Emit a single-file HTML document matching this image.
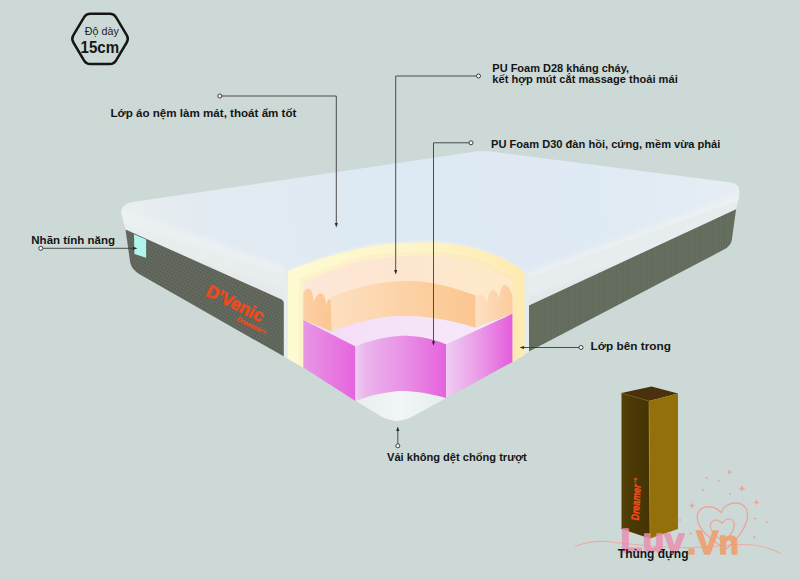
<!DOCTYPE html>
<html lang="vi">
<head>
<meta charset="utf-8">
<title>Cấu tạo nệm D'Venic</title>
<style>
html,body{margin:0;padding:0;background:#ccd9d7;}
body{width:800px;height:579px;overflow:hidden;position:relative;font-family:"Liberation Sans",sans-serif;}
svg{position:absolute;left:0;top:0;display:block;}
text{font-family:"Liberation Sans",sans-serif;}
.lb{font-weight:bold;fill:#151515;}
.ln{fill:none;stroke:#3c3c3c;stroke-width:0.9;}
.dot{fill:#fafbfb;stroke:#2b2b2b;stroke-width:0.9;}
.ah{fill:#2b2b2b;}
</style>
</head>
<body>
<svg width="800" height="579" viewBox="0 0 800 579">
<defs>
  <linearGradient id="gTop" x1="121" y1="215" x2="740" y2="190" gradientUnits="userSpaceOnUse">
    <stop offset="0" stop-color="#e9eef0"/>
    <stop offset="0.12" stop-color="#e3ebf1"/>
    <stop offset="0.4" stop-color="#dde9f3"/>
    <stop offset="0.8" stop-color="#dfeaf3"/>
    <stop offset="1" stop-color="#e6eef3"/>
  </linearGradient>
  <linearGradient id="gWL" x1="200" y1="232.5" x2="190.2" y2="260.8" gradientUnits="userSpaceOnUse">
    <stop offset="0" stop-color="#edf1f2" stop-opacity="0"/>
    <stop offset="0.25" stop-color="#edf1f2" stop-opacity="0.8"/>
    <stop offset="0.8" stop-color="#eaeeef" stop-opacity="0.95"/>
    <stop offset="1" stop-color="#e5e9eb" stop-opacity="1"/>
  </linearGradient>
  <linearGradient id="gWR" x1="640" y1="226" x2="650.5" y2="254" gradientUnits="userSpaceOnUse">
    <stop offset="0" stop-color="#edf1f2" stop-opacity="0"/>
    <stop offset="0.25" stop-color="#edf1f2" stop-opacity="0.8"/>
    <stop offset="0.8" stop-color="#e9eef0" stop-opacity="0.95"/>
    <stop offset="1" stop-color="#e3e9eb" stop-opacity="1"/>
  </linearGradient>
  <pattern id="pGrey" width="3" height="3" patternUnits="userSpaceOnUse" patternTransform="rotate(28)">
    <rect width="3" height="3" fill="#61665c"/>
    <rect width="1.5" height="1.5" fill="#6c7166"/>
    <rect x="1.5" y="1.5" width="1.5" height="1.5" fill="#575c53"/>
  </pattern>
  <pattern id="pGreyR" width="2.4" height="6" patternUnits="userSpaceOnUse" patternTransform="skewY(-25)">
    <rect width="2.4" height="6" fill="#60695a"/>
    <rect width="1.2" height="6" fill="#687161"/>
  </pattern>
  <linearGradient id="gBoxL" x1="621.5" y1="0" x2="650" y2="0" gradientUnits="userSpaceOnUse">
    <stop offset="0" stop-color="#564208"/>
    <stop offset="0.35" stop-color="#4b3906"/>
    <stop offset="1" stop-color="#453403"/>
  </linearGradient>
  <linearGradient id="gYel" x1="288" y1="0" x2="525" y2="0" gradientUnits="userSpaceOnUse">
    <stop offset="0" stop-color="#fefad2"/>
    <stop offset="0.5" stop-color="#fdf5c8"/>
    <stop offset="1" stop-color="#fdebb0"/>
  </linearGradient>
  <linearGradient id="gYel2" x1="288" y1="0" x2="525" y2="0" gradientUnits="userSpaceOnUse">
    <stop offset="0" stop-color="#fdf4ca"/>
    <stop offset="0.5" stop-color="#fdefc8"/>
    <stop offset="1" stop-color="#fde8b2"/>
  </linearGradient>
  <linearGradient id="gPeachTop" x1="0" y1="0" x2="1" y2="0">
    <stop offset="0" stop-color="#fde8d8"/>
    <stop offset="0.5" stop-color="#fde6d0"/>
    <stop offset="1" stop-color="#fdeac8"/>
  </linearGradient>
  <linearGradient id="gPeachWall" x1="0" y1="0" x2="1" y2="0">
    <stop offset="0" stop-color="#fddfc0"/>
    <stop offset="0.6" stop-color="#fcd0a2"/>
    <stop offset="1" stop-color="#fbc690"/>
  </linearGradient>
  <linearGradient id="gPeachL" x1="0" y1="0" x2="1" y2="0">
    <stop offset="0" stop-color="#fbcfa4"/>
    <stop offset="1" stop-color="#fbc692"/>
  </linearGradient>
  <linearGradient id="gPeachR" x1="0" y1="0" x2="1" y2="0">
    <stop offset="0" stop-color="#fde0c4"/>
    <stop offset="1" stop-color="#fccb9c"/>
  </linearGradient>
  <linearGradient id="gPinkTop" x1="0" y1="0" x2="1" y2="0">
    <stop offset="0" stop-color="#f3dcf6"/>
    <stop offset="1" stop-color="#f8eafb"/>
  </linearGradient>
  <linearGradient id="gPinkL" x1="0" y1="0" x2="1" y2="0">
    <stop offset="0" stop-color="#e896e5"/>
    <stop offset="1" stop-color="#e664de"/>
  </linearGradient>
  <linearGradient id="gPinkF" x1="0" y1="0" x2="1" y2="0">
    <stop offset="0" stop-color="#efcef1"/>
    <stop offset="0.12" stop-color="#ebb4ec"/>
    <stop offset="0.55" stop-color="#e98fe6"/>
    <stop offset="1" stop-color="#e562dd"/>
  </linearGradient>
  <linearGradient id="gPinkR" x1="0" y1="0" x2="1" y2="0">
    <stop offset="0" stop-color="#efcdf2"/>
    <stop offset="0.5" stop-color="#ea9be8"/>
    <stop offset="1" stop-color="#e55cdc"/>
  </linearGradient>
  <linearGradient id="gBase" x1="0" y1="0" x2="1" y2="0">
    <stop offset="0" stop-color="#e9eeee"/>
    <stop offset="0.5" stop-color="#f1f5f5"/>
    <stop offset="1" stop-color="#e6ecec"/>
  </linearGradient>
</defs>

<rect width="800" height="579" fill="#ccd9d7"/>

<!-- ===== mattress ===== -->
<!-- top surface -->
<path d="M121.5,214 Q120.8,204.6 131,202.3 L471,152.3 Q480,150.4 489,151.2 L731,182.6 Q739.8,184 739.6,192 L739,200 L525,279 L285,275 L124,224 Z" fill="url(#gTop)"/>
<!-- white cover: front-left face -->
<path d="M121.2,212 Q121.3,207.5 125,204.5 L285,261.5 L285,301 L147,240 L125.5,230 Z" fill="url(#gWL)"/>
<!-- white cover: front-right face -->
<path d="M739.7,184.5 L738,201 L736.1,209.4 L529,305.5 L525,305 L525,265.5 Z" fill="url(#gWR)"/>
<!-- grey left face -->
<path d="M125.5,229.5 L281,299.2 Q284,300.6 284,304 L284,356.6 L140,274.5 Q131.6,269.8 130.2,262.5 Z" fill="url(#pGrey)"/>
<!-- grey right face -->
<path d="M529,305.5 L736.1,209.2 L731.9,239.5 Q731,246 724,249.6 L529,351.6 Z" fill="url(#pGreyR)"/>
<!-- teal label -->
<path d="M134,234.2 L146.1,239.4 L146.1,257.7 L134.4,254 Z" fill="#b0f4ee"/>

<!-- cutaway: thin white edge + yellow shell -->
<path d="M283.8,269.5 L284.0,269.3 C289.5,267.4 306.0,261.3 316.8,257.8 C327.6,254.3 338.5,251.1 348.8,248.6 C359.1,246.1 367.1,244.2 378.8,242.8 C390.5,241.4 408.0,240.6 418.8,240.3 C429.6,240.0 433.8,239.6 443.8,240.8 C453.8,242.1 468.3,244.8 478.8,247.8 C489.3,250.8 498.5,254.8 506.8,259.1 C515.1,263.3 525.1,271.1 528.8,273.5 L529,352 L512,362 L512,300 L303,300 L303,367.6 L283.8,356.6 Z" fill="#e7ecee"/>
<path d="M288.0,271.0 C293.0,269.2 307.7,263.4 318.0,260.0 C328.3,256.6 339.7,253.2 350.0,250.8 C360.3,248.2 368.3,246.4 380.0,245.0 C391.7,243.6 409.2,242.8 420.0,242.5 C430.8,242.2 435.0,241.8 445.0,243.0 C455.0,244.2 469.5,247.0 480.0,250.0 C490.5,253.0 500.6,257.5 508.0,261.2 C515.4,265.0 521.8,270.7 524.6,272.6 L524.6,355.2 L512.4,362 L512.4,290 L303.4,290 L303.4,367.6 L288,358.8 Z" fill="url(#gYel)"/>
<path d="M299.0,278.6 C307.5,275.4 336.5,263.5 350.0,259.3 C363.5,255.1 368.3,254.7 380.0,253.3 C391.7,251.9 409.2,251.3 420.0,251.0 C430.8,250.7 435.0,250.3 445.0,251.6 C455.0,252.9 468.1,254.4 480.0,258.8 C491.9,263.2 510.4,275.1 516.5,278.3 L516.5,359.7 L512.4,362 L512.4,290 L303.4,290 L303.4,367.6 L299,365.1 Z" fill="url(#gYel2)"/>
<path d="M299.0,278.6 C307.5,275.4 336.5,263.5 350.0,259.3 C363.5,255.1 368.3,254.7 380.0,253.3 C391.7,251.9 409.2,251.3 420.0,251.0 C430.8,250.7 435.0,250.3 445.0,251.6 C455.0,252.9 468.1,254.4 480.0,258.8 C491.9,263.2 510.4,275.1 516.5,278.3" fill="none" stroke="#fefbe0" stroke-width="0.7" opacity="0.55"/>
<!-- light peach top (inside yellow arc) -->
<path d="M303.4,281.4 C311.2,278.5 337.2,267.7 350.0,263.9 C362.8,260.1 370.0,259.8 380.0,258.5 C390.0,257.2 399.2,256.3 410.0,256.0 C420.8,255.7 433.3,255.6 445.0,256.9 C456.7,258.2 468.8,260.0 480.0,263.9 C491.2,267.8 507.0,277.7 512.4,280.5 L512.4,318 L303.4,325 Z" fill="url(#gPeachTop)"/>
<!-- peach inner curved wall -->
<path d="M330.8,297.0 C334.8,295.6 346.8,290.8 355.0,288.5 C363.2,286.2 372.5,284.2 380.0,283.0 C387.5,281.8 393.3,281.6 400.0,281.3 C406.7,281.0 412.5,280.7 420.0,281.4 C427.5,282.1 435.7,283.4 445.0,285.8 C454.3,288.1 470.5,293.8 475.6,295.4 L475.6,327.8 C472.2,326.8 461.8,323.6 455.0,322.0 C448.2,320.4 441.2,319.3 435.0,318.4 C428.8,317.5 423.3,317.0 417.5,316.6 C411.7,316.2 405.8,316.2 400.0,316.3 C394.2,316.4 390.0,316.3 382.5,317.5 C375.0,318.7 363.5,321.2 355.0,323.5 C346.5,325.8 335.4,330.0 331.5,331.3 Z" fill="url(#gPeachWall)"/>
<!-- left peach piece with wavy top -->
<path d="M303.4,294 C304.5,290 306.5,288.3 309,288.4 C312.3,288.8 313,296 314,302.4 C315.2,297 317.5,293.4 321,293.6 C324.6,294.2 325.5,300 326.4,305 C327,301.5 327.8,299.2 329,299 C330,299 330.75,300 330.75,301 L331.5,331.3 L303.4,320.1 Z" fill="url(#gPeachL)"/>
<!-- right peach piece with wavy top -->
<path d="M475.6,298 C476.2,296 478,294.4 480,294.5 C483.5,295 485.5,298 487,302.4 C488,295.5 490,290.2 493,290 C496.5,290.3 498,294 499,299 C500,291 502,285.2 504.5,285 C508.5,285.3 510.5,290 512.4,296.3 L512.4,313.8 L475.6,327.75 Z" fill="url(#gPeachR)"/>
<!-- light pink top surface -->
<path d="M303.4,320.1 L331.5,331.3 L331.5,331.3 C335.4,330.0 346.5,325.8 355.0,323.5 C363.5,321.2 375.0,318.7 382.5,317.5 C390.0,316.3 394.2,316.4 400.0,316.3 C405.8,316.2 411.7,316.2 417.5,316.6 C423.3,317.0 428.8,317.5 435.0,318.4 C441.2,319.3 448.2,320.4 455.0,322.0 C461.8,323.6 472.2,326.8 475.6,327.8 L512.4,313.8 L446,344.5 L446.0,344.5 C445.0,344.1 442.7,342.9 440.0,342.0 C437.3,341.1 433.3,339.8 430.0,339.0 C426.7,338.2 423.3,337.5 420.0,337.0 C416.7,336.5 413.3,336.2 410.0,336.0 C406.7,335.8 403.7,335.7 400.0,335.9 C396.3,336.1 391.8,336.6 388.0,337.2 C384.2,337.8 380.7,338.6 377.0,339.5 C373.3,340.4 369.6,341.4 366.0,342.5 C362.4,343.6 357.2,345.8 355.4,346.4 Z" fill="url(#gPinkTop)"/>
<!-- white base -->
<path d="M355.4,401.0 C357.8,400.2 365.1,397.4 370.0,396.0 C374.9,394.6 380.3,393.6 385.0,392.8 C389.7,392.0 393.8,391.2 398.0,391.0 C402.2,390.8 406.3,391.1 410.0,391.3 C413.7,391.5 416.3,391.8 420.0,392.3 C423.7,392.8 427.7,393.6 432.0,394.5 C436.3,395.4 443.7,397.4 446.0,398.0 L446,398.3 L414,415.8 Q398,425 383,417.6 L355.4,400.8 Z" fill="url(#gBase)"/>
<!-- pink faces -->
<path d="M303.4,320.1 L355.4,346.4 L355.4,401 L303.4,367.6 Z" fill="url(#gPinkL)"/>
<path d="M355.4,346.4 C357.2,345.8 362.4,343.6 366.0,342.5 C369.6,341.4 373.3,340.4 377.0,339.5 C380.7,338.6 384.2,337.8 388.0,337.2 C391.8,336.6 396.3,336.1 400.0,335.9 C403.7,335.7 406.7,335.8 410.0,336.0 C413.3,336.2 416.7,336.5 420.0,337.0 C423.3,337.5 426.7,338.2 430.0,339.0 C433.3,339.8 437.3,341.1 440.0,342.0 C442.7,342.9 445.0,344.1 446.0,344.5 L446,398 L446.0,398.0 C443.7,397.4 436.3,395.4 432.0,394.5 C427.7,393.6 423.7,392.8 420.0,392.3 C416.3,391.8 413.7,391.5 410.0,391.3 C406.3,391.1 402.2,390.8 398.0,391.0 C393.8,391.2 389.7,392.0 385.0,392.8 C380.3,393.6 374.9,394.6 370.0,396.0 C365.1,397.4 357.8,400.2 355.4,401.0 Z" fill="url(#gPinkF)"/>
<path d="M446,344.5 L512.4,313.8 L512.4,362 L446,398.2 Z" fill="url(#gPinkR)"/>

<!-- brand on grey face -->
<g transform="translate(204.8,295) rotate(26.5)">
  <text x="0" y="0" font-size="17.5" font-weight="bold" fill="#f2491a" stroke="#f2491a" stroke-width="0.5" textLength="62" lengthAdjust="spacingAndGlyphs">D'Venic</text>
  <text x="39.5" y="8.8" font-size="6.5" font-weight="bold" font-style="italic" fill="#ec4a1c" stroke="#ec4a1c" stroke-width="0.3" textLength="32" lengthAdjust="spacingAndGlyphs">Dreamer+</text>
</g>

<!-- ===== storage box ===== -->
<path d="M621.5,393 L651.5,386.5 L678,393.5 L649,401 Z" fill="#4a300b"/>
<path d="M621.5,393 L649,401 L650,538.5 L621.5,529 Z" fill="url(#gBoxL)"/>
<path d="M649,401 L678,393.5 L678,529 L650,538.5 Z" fill="#93700a"/>
<path d="M649,401 L650,538.5" stroke="#b38e34" stroke-width="0.6" fill="none"/>
<path d="M621.5,393 L649,401" stroke="#7d6214" stroke-width="0.5" fill="none"/>
<g transform="translate(638.8,520.5) rotate(-87)">
  <text x="0" y="0" font-size="11" font-weight="bold" font-style="italic" fill="#f44b1c" stroke="#f44b1c" stroke-width="0.4" textLength="36" lengthAdjust="spacingAndGlyphs">Dreamer</text>
  <text x="37" y="-4" font-size="5" font-weight="bold" fill="#f44b1c">+6</text>
</g>

<!-- ===== watermark ===== -->
<g>
  <path d="M575,546.5 Q590,540.5 606,541.5 Q625,543.5 650,546 Q690,549 715,546.5 Q745,542.5 762,546.5 Q772,549 781,553.5" fill="none" stroke="#eea79e" stroke-width="1.1" opacity="0.9"/>
  <path d="M726,549 C706,538 695,524 697.6,514.5 C700,505.5 713,503.5 721,512.5 C726,501.5 741.5,499.5 746.5,509.5 C750.5,519.5 742,536 726,549 Z" fill="none" stroke="#ef9f94" stroke-width="1.3" opacity="0.9"/>
  <path d="M723.5,541.5 C714,535.5 709.5,529.5 710.6,524.5 C712,519 718.5,518.5 722.3,523.5 C725.5,517.5 732.5,517.8 734,522.8 C735.3,528 731,535 723.5,541.5 Z" fill="none" stroke="#ef9f94" stroke-width="1.2" opacity="0.9"/>
  <g font-family="'Liberation Sans',sans-serif" font-weight="bold" stroke-linejoin="round" stroke-linecap="round" opacity="0.85">
    <text x="620.5" y="551.5" font-size="33" fill="#e991b3" stroke="#e991b3" stroke-width="1.4" textLength="64" lengthAdjust="spacingAndGlyphs">Luv</text>
    <text x="687" y="554" font-size="33" fill="#f19d68" stroke="#f19d68" stroke-width="1.4" textLength="52" lengthAdjust="spacingAndGlyphs">.Vn</text>
  </g>
  <g fill="#f09e96" opacity="0.9">
    <path d="M729.5,469.3 l0.8,2 2,0.8 -2,0.8 -0.8,2 -0.8,-2 -2,-0.8 2,-0.8z"/>
    <path d="M742,485.3 l1,2.3 2.3,1 -2.3,1 -1,2.3 -1,-2.3 -2.3,-1 2.3,-1z"/>
    <path d="M756.5,499.5 l0.9,2 2,0.9 -2,0.9 -0.9,2 -0.9,-2 -2,-0.9 2,-0.9z"/>
    <path d="M692,502.8 l0.9,2 2,0.9 -2,0.9 -0.9,2 -0.9,-2 -2,-0.9 2,-0.9z"/>
    <circle cx="706.4" cy="478" r="1.1"/><circle cx="719" cy="481" r="0.9"/><circle cx="703" cy="490" r="1.1"/>
    <circle cx="730" cy="494" r="0.9"/><circle cx="755" cy="518.5" r="1.1"/><circle cx="767" cy="522" r="1"/>
    <circle cx="754.4" cy="537.4" r="1.1"/><circle cx="680" cy="520" r="1"/><circle cx="690.5" cy="533.5" r="1"/>
  </g>
</g>

<!-- ===== callout lines ===== -->
<!-- cover -->
<path class="ln" d="M221.8,96 H336.3 V223"/><path class="ah" d="M336.3,227.5 l-1.6,-4.6 h3.2z"/><circle class="dot" cx="219.8" cy="96" r="2"/>
<!-- D28 -->
<path class="ln" d="M476.5,76 H395.7 V270.5"/><path class="ah" d="M395.7,274.5 l-1.6,-4.6 h3.2z"/><circle class="dot" cx="478.5" cy="76" r="2"/>
<!-- D30 -->
<path class="ln" d="M469,142.8 H433.5 V342"/><path class="ah" d="M433.5,345.8 l-1.6,-4.6 h3.2z"/><circle class="dot" cx="471" cy="142.8" r="2"/>
<!-- label -->
<path class="ln" d="M42.8,248.3 H134"/><path class="ah" d="M137.5,248.3 l-4.6,-1.6 v3.2z"/><circle class="dot" cx="40.8" cy="248.3" r="2"/>
<!-- inner layer -->
<path class="ln" d="M579,347.5 H523"/><path class="ah" d="M519.5,347.5 l4.6,-1.6 v3.2z"/><circle class="dot" cx="581" cy="347.5" r="2"/>
<!-- base -->
<path class="ln" d="M397.8,443.8 V430"/><path class="ah" d="M397.8,426.4 l-1.6,4.6 h3.2z"/><circle class="dot" cx="397.8" cy="445.8" r="2"/>

<!-- ===== hexagon badge ===== -->
<path d="M73.4,42.5 Q71.2,38.9 73.4,35.2 L84.0,17.4 Q86.2,13.8 90.4,13.8 L109.7,13.8 Q113.9,13.8 116.1,17.4 L126.7,35.2 Q128.9,38.9 126.7,42.5 L116.1,60.3 Q113.9,64.0 109.7,64.0 L90.4,64.0 Q86.2,64.0 84.0,60.3 Z" fill="none" stroke="#161616" stroke-width="2.5" stroke-linejoin="round"/>
<text x="101.8" y="34.5" font-size="10.7" fill="#222" text-anchor="middle">Độ dày</text>
<text x="99.8" y="52.6" font-size="16.5" font-weight="bold" fill="#151515" text-anchor="middle" textLength="38.5" lengthAdjust="spacingAndGlyphs">15cm</text>

<!-- ===== labels ===== -->
<text class="lb" x="110.4" y="117.2" font-size="11.6">Lớp áo nệm làm mát, thoát ẩm tốt</text>
<text class="lb" x="492.3" y="71.5" font-size="11">PU Foam D28 kháng cháy,</text>
<text class="lb" x="492.3" y="82.6" font-size="11.1">kết hợp mút cắt massage thoải mái</text>
<text class="lb" x="491" y="148.2" font-size="11.1">PU Foam D30 đàn hồi, cứng, mềm vừa phải</text>
<text class="lb" x="31.3" y="244.3" font-size="11.5">Nhãn tính năng</text>
<text class="lb" x="590.5" y="350.3" font-size="11.8">Lớp bên trong</text>
<text class="lb" x="387" y="461" font-size="11.1">Vải không dệt chống trượt</text>
<text class="lb" x="617.8" y="557.6" font-size="12">Thùng đựng</text>
</svg>
</body>
</html>
